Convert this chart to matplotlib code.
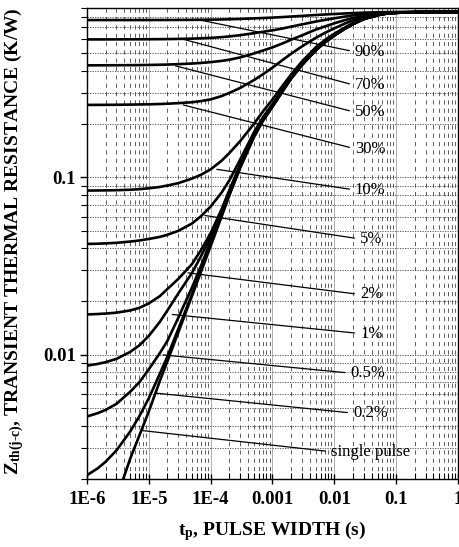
import matplotlib
matplotlib.use('Agg')
import matplotlib.pyplot as plt
from matplotlib.ticker import LogLocator, NullFormatter

# pulse widths (s), shared by all duty cycle curves
t_grid = [1e-6, 1.5e-6, 2e-6, 3e-6, 5e-6, 7e-6,
          1e-5, 1.5e-5, 2e-5, 3e-5, 5e-5, 7e-5,
          1e-4, 1.5e-4, 2e-4, 3e-4, 5e-4, 7e-4,
          1e-3, 1.5e-3, 2e-3, 3e-3, 5e-3, 7e-3,
          1e-2, 1.5e-2, 2e-2, 3e-2, 5e-2, 7e-2,
          0.1, 0.15, 0.2, 0.3, 0.5, 0.7, 1.0]

# single pulse starts at 2e-6 (below the axis before that)
t_single = t_grid[2:]
z_single = [0.00105, 0.00155, 0.0026, 0.0035,
            0.0048, 0.0071, 0.0092, 0.0134, 0.0215, 0.0295,
            0.041, 0.060, 0.079, 0.113, 0.168, 0.208,
            0.25, 0.31, 0.36, 0.43, 0.52, 0.575,
            0.63, 0.69, 0.73, 0.78, 0.82, 0.837,
            0.845, 0.85, 0.852, 0.854, 0.855, 0.855, 0.855]

z_d02 = [0.0021, 0.0023, 0.0025, 0.0029, 0.0037, 0.0045,
         0.0057, 0.0078, 0.0098, 0.0140, 0.0220, 0.0300,
         0.0418, 0.0610, 0.0800, 0.1142, 0.1695, 0.2092,
         0.2512, 0.3112, 0.3605, 0.4302, 0.5202, 0.5752,
         0.6301, 0.6901, 0.7301, 0.7801, 0.8201, 0.837,
         0.845, 0.85, 0.852, 0.854, 0.855, 0.855, 0.855]
z_d05 = [0.0045, 0.0047, 0.0049, 0.0053, 0.0062, 0.0070,
         0.0083, 0.0102, 0.0120, 0.0162, 0.0240, 0.0318,
         0.0435, 0.0625, 0.0815, 0.1152, 0.1705, 0.2102,
         0.2515, 0.3115, 0.361, 0.4305, 0.5205, 0.5755,
         0.6305, 0.6903, 0.7303, 0.7803, 0.8203, 0.837,
         0.845, 0.85, 0.852, 0.854, 0.855, 0.855, 0.855]
z_d1 = [0.0087, 0.0089, 0.0091, 0.0095, 0.0104, 0.0113,
        0.0128, 0.0153, 0.0178, 0.0222, 0.0290, 0.0360,
        0.0460, 0.0640, 0.0825, 0.1162, 0.1715, 0.2112,
        0.2525, 0.3125, 0.362, 0.431, 0.521, 0.576,
        0.631, 0.6905, 0.7305, 0.7805, 0.8205, 0.837,
        0.845, 0.85, 0.852, 0.854, 0.855, 0.855, 0.855]
z_d2 = [0.0169, 0.0170, 0.0171, 0.0173, 0.0178, 0.0184,
        0.0195, 0.0214, 0.0235, 0.0268, 0.0325, 0.0390,
        0.0485, 0.0660, 0.0845, 0.1182, 0.1735, 0.2132,
        0.2545, 0.3145, 0.364, 0.433, 0.523, 0.5775,
        0.633, 0.692, 0.732, 0.782, 0.821, 0.8375,
        0.8455, 0.8505, 0.852, 0.854, 0.855, 0.855, 0.855]
z_d5 = [0.0422, 0.0423, 0.0425, 0.0428, 0.0435, 0.0441,
        0.0450, 0.0462, 0.0475, 0.0500, 0.0550, 0.0605,
        0.0685, 0.0820, 0.0960, 0.126, 0.179, 0.218,
        0.259, 0.319, 0.369, 0.439, 0.529, 0.583,
        0.638, 0.696, 0.735, 0.783, 0.821, 0.838,
        0.845, 0.8505, 0.852, 0.854, 0.855, 0.855, 0.855]
z_d10 = [0.0843, 0.0844, 0.0845, 0.0847, 0.0852, 0.0858,
         0.0868, 0.0883, 0.0900, 0.0928, 0.0985, 0.1035,
         0.111, 0.124, 0.137, 0.160, 0.200, 0.235,
         0.275, 0.333, 0.380, 0.450, 0.540, 0.593,
         0.645, 0.701, 0.740, 0.786, 0.823, 0.839,
         0.846, 0.851, 0.853, 0.854, 0.855, 0.855, 0.855]
z_d30 = [0.256, 0.2561, 0.2562, 0.2565, 0.257, 0.2575,
         0.258, 0.259, 0.260, 0.262, 0.265, 0.269,
         0.275, 0.287, 0.299, 0.319, 0.353, 0.381,
         0.415, 0.462, 0.497, 0.547, 0.611, 0.651,
         0.691, 0.737, 0.766, 0.801, 0.830, 0.842,
         0.848, 0.852, 0.853, 0.8543, 0.855, 0.855, 0.855]
z_d50 = [0.4278, 0.4279, 0.428, 0.4283, 0.4288, 0.4292,
         0.4299, 0.431, 0.4321, 0.4343, 0.438, 0.441,
         0.446, 0.453, 0.460, 0.474, 0.499, 0.518,
         0.540, 0.571, 0.596, 0.631, 0.680, 0.708,
         0.738, 0.770, 0.790, 0.815, 0.836, 0.845,
         0.849, 0.852, 0.8535, 0.8545, 0.855, 0.855, 0.855]
z_d70 = [0.5987, 0.5987, 0.5988, 0.599, 0.5993, 0.5996,
         0.5999, 0.6006, 0.6013, 0.6026, 0.6048, 0.6073,
         0.6108, 0.6165, 0.6222, 0.6324, 0.6489, 0.6609,
         0.6735, 0.6915, 0.7065, 0.7275, 0.7545, 0.771,
         0.7875, 0.8055, 0.8175, 0.8325, 0.8445, 0.8496,
         0.852, 0.8535, 0.854, 0.8547, 0.855, 0.855, 0.855]
z_d90 = [0.7696, 0.7696, 0.7696, 0.7697, 0.7698, 0.7699,
         0.770, 0.7702, 0.7704, 0.7708, 0.7717, 0.7725,
         0.7736, 0.7755, 0.7774, 0.7808, 0.7863, 0.7903,
         0.7945, 0.8005, 0.8055, 0.8125, 0.8215, 0.827,
         0.8325, 0.8385, 0.8425, 0.8475, 0.8515, 0.8532,
         0.854, 0.8545, 0.855, 0.855, 0.855, 0.855, 0.855]

duty_curves = [z_d90, z_d70, z_d50, z_d30, z_d10, z_d5, z_d2, z_d1, z_d05, z_d02]

# curve labels with leader lines
labels = ['90%', '70%', '50%', '30%', '10%', '5%', '2%', '1%', '0.5%', '0.2%', 'single pulse']
leader_start = [(6.7e-5, 0.77), (3.6e-5, 0.60), (2.7e-5, 0.425), (3.6e-5, 0.256),
                (1.26e-4, 0.111), (8.1e-5, 0.061), (4.3e-5, 0.029), (2.4e-5, 0.0169),
                (1.7e-5, 0.0100), (1.26e-5, 0.0061), (7.8e-6, 0.00375)]
label_pos = [(0.0215, 0.51), (0.0215, 0.33), (0.0215, 0.233), (0.0215, 0.145),
             (0.0215, 0.085), (0.026, 0.045), (0.026, 0.0219), (0.026, 0.0132),
             (0.018, 0.0079), (0.020, 0.0047), (0.0088, 0.00285)]

xticks = [1e-6, 1e-5, 1e-4, 1e-3, 1e-2, 1e-1, 1]
xtick_labels = ['1E-6', '1E-5', '1E-4', '0.001', '0.01', '0.1', '1']
yticks = [0.01, 0.1]
ytick_labels = ['0.01', '0.1']

plt.rcParams['font.family'] = ['Liberation Serif', 'DejaVu Serif']
plt.rcParams['mathtext.fontset'] = 'custom'
plt.rcParams['mathtext.rm'] = 'Liberation Serif:bold'
plt.rcParams['mathtext.it'] = 'Liberation Serif:bold'
plt.rcParams['mathtext.bf'] = 'Liberation Serif:bold'

fig = plt.figure(figsize=(4.6, 5.47), dpi=100)
ax = fig.add_axes([0.189, 0.1243, 0.8067, 0.8611])

for z in duty_curves:
    ax.plot(t_grid, z, color='k', lw=1.9)
ax.plot(t_single, z_single, color='k', lw=1.9)

ax.set_xscale('log')
ax.set_yscale('log')
ax.set_xlim(1e-6, 1)
ax.set_ylim(0.002, 0.9)

ax.xaxis.set_minor_locator(LogLocator(base=10, subs=range(2, 10), numticks=20))
ax.yaxis.set_minor_locator(LogLocator(base=10, subs=range(2, 10), numticks=20))
ax.xaxis.set_minor_formatter(NullFormatter())
ax.yaxis.set_minor_formatter(NullFormatter())
ax.set_xticks(xticks, xtick_labels)
ax.set_yticks(yticks, ytick_labels)

# grid: dotted decades, dashed minor verticals, dotted horizontals
ax.set_axisbelow(True)
ax.grid(True, which='major', axis='x', color='#444444', lw=0.6, ls=(0, (1.2, 1.2)))
ax.grid(True, which='minor', axis='x', color='#444444', lw=0.6, ls=(0, (5, 5)))
ax.grid(True, which='both', axis='y', color='#444444', lw=0.6, ls=(0, (1.5, 1.5)))

ax.tick_params(axis='x', which='major', direction='inout', length=7, width=1, pad=5)
ax.tick_params(axis='x', which='minor', direction='in', length=4, width=0.8)
ax.tick_params(axis='y', which='major', direction='out', length=5, width=1, pad=3)
ax.tick_params(axis='y', which='minor', direction='out', length=4, width=0.8)
for lab in ax.get_xticklabels() + ax.get_yticklabels():
    lab.set_fontsize(13.5)
    lab.set_fontweight('bold')

for s in ax.spines.values():
    s.set_linewidth(1.0)

for lab, start, pos in zip(labels, leader_start, label_pos):
    ax.annotate(lab, xy=start, xytext=pos, textcoords='data',
                ha='left', va='center', fontsize=12,
                arrowprops=dict(arrowstyle='-', color='k', lw=0.9,
                                shrinkA=2, shrinkB=0, relpos=(0, 0.5)))

ax.set_xlabel(r'$t_p$, PULSE WIDTH (s)', fontsize=14, fontweight='bold')
ax.xaxis.set_label_coords(0.5, -0.085)
ax.set_ylabel(r'$Z_{th(j\text{-}c)}$, TRANSIENT THERMAL RESISTANCE (K/W)',
              fontsize=14, fontweight='bold')
ax.yaxis.set_label_coords(-0.165, 0.505)

fig.savefig('out.png', dpi=100)
